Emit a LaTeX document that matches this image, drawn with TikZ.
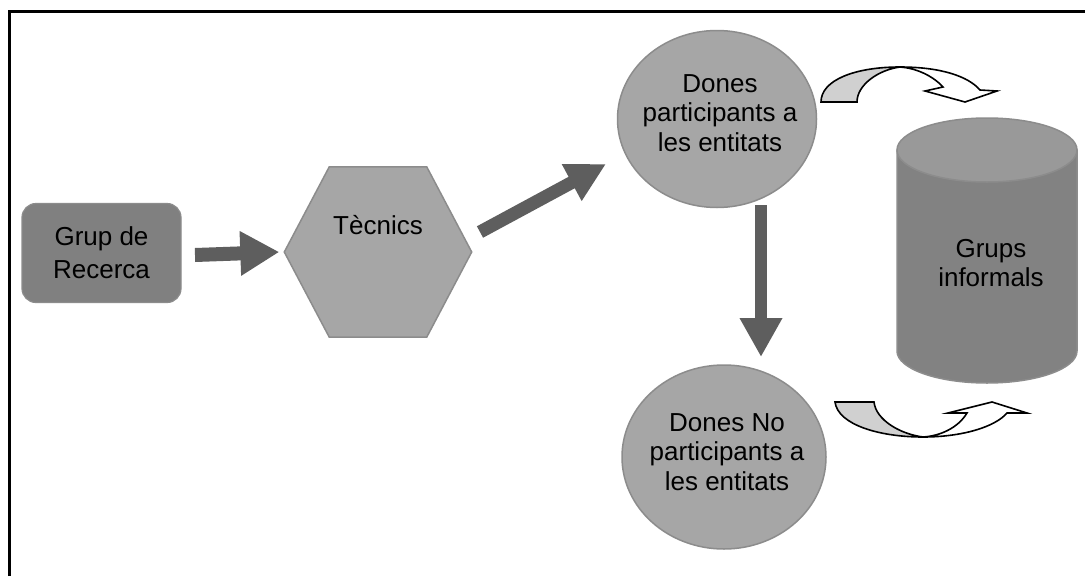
\documentclass[tikz,border=0pt]{standalone}
\usepackage{fontspec}
\setmainfont{Liberation Sans}
\usetikzlibrary{arrows.meta,shapes.geometric,calc}
\definecolor{boxgray}{HTML}{808080}
\definecolor{shapegray}{HTML}{A6A6A6}
\definecolor{edgegray}{HTML}{8C8C8C}
\definecolor{arrowgray}{HTML}{5E5E5E}
\definecolor{cyltop}{HTML}{999999}
\definecolor{cylbody}{HTML}{828282}
\definecolor{ribbon}{HTML}{D0D0D0}
\begin{document}
\begin{tikzpicture}[x=1pt,y=-1pt,
  lbl/.style={font=\fontsize{26}{29.5}\selectfont, align=center, inner sep=0pt, text=black},
  rbox/.style={lbl, font=\fontsize{26}{33}\selectfont, rounded corners=14pt, fill=boxgray, draw=edgegray, line width=1.2pt, minimum width=159pt, minimum height=99pt},
  oval/.style={ellipse, fill=shapegray, draw=edgegray, line width=1.5pt, inner sep=0pt},
  fat/.style={draw=arrowgray, line width=#1, -{Triangle[width=42pt,length=39pt]}},
  ribbonline/.style={draw=black, line width=1.6pt, line join=miter}
]
\fill[white] (0,0) rectangle (1085,576);
\useasboundingbox (0,0) rectangle (1085,576);
% frame
\draw[line width=2.8pt] (9.7,576) -- (9.7,11.3) -- (1085,11.3);

% Grup de Recerca
\node[rbox] (grp) at (101.5,253) {Grup de\\Recerca};

% hexagon
\node[minimum width=187pt, minimum height=170pt, inner sep=0pt] (hex) at (378,252) {};
\filldraw[fill=shapegray, draw=edgegray, line width=1.5pt]
  (hex.west) -- ($(hex.north west)!0.24!(hex.north east)$) -- ($(hex.north west)!0.76!(hex.north east)$)
  -- (hex.east) -- ($(hex.south west)!0.76!(hex.south east)$) -- ($(hex.south west)!0.24!(hex.south east)$) -- cycle;
\node[lbl] (tec) at (378,225) {Tècnics};

% ellipses
\node[oval, minimum width=199pt, minimum height=177pt] (c1) at (717,119) {};
\node[lbl] (c1t) at (720,113) {Dones\\participants a\\les entitats};
\node[oval, minimum width=204pt, minimum height=184pt] (c2) at (724,457) {};
\node[lbl] (c2t) at (727,452) {Dones No\\participants a\\les entitats};

% cylinder
\node[minimum width=180pt, minimum height=265pt, inner sep=0pt] (cyl) at (987,250) {};
\filldraw[fill=cylbody, draw=edgegray, line width=1.5pt]
  (897,150) -- (897,351) arc[start angle=180, end angle=0, x radius=90, y radius=32] -- (1077,150) -- cycle;
\filldraw[fill=cyltop, draw=edgegray, line width=1.5pt] (987,150) ellipse [x radius=90, y radius=32];
\node[lbl] (cylt) at (991,263) {Grups\\informals};

% fat arrows
\coordinate (a1s) at (195,255);
\coordinate (a2s) at (480,232);
\coordinate (a2e) at (606,164);
\coordinate (a3s) at (761,205);
\coordinate (a3e) at (761,357);
\draw[fat=14pt] (a1s) -- ([xshift=-5pt]hex.west);
\draw[draw=arrowgray, line width=13pt, -{Triangle[width=39pt,length=39pt]}] (a2s) -- (a2e);
\draw[draw=arrowgray, line width=12pt, -{Triangle[width=40pt,length=39pt]}] (a3s) -- (a3e);

% top curved arrow
\filldraw[ribbonline, fill=ribbon] (821,102) .. controls (821,80) and (855,67) .. (900,67)
  .. controls (878,70) and (857,85) .. (857,102) -- cycle;
\filldraw[ribbonline, fill=white] (900,67) .. controls (940,67) and (968,76) .. (980,90)
  -- (997,91) -- (965,102) -- (925,91) -- (943,87)
  .. controls (932,75) and (915,68) .. (900,67) -- cycle;

% bottom curved arrow
\filldraw[ribbonline, fill=ribbon] (835,402) .. controls (838,425) and (880,437) .. (923,437)
  .. controls (900,434) and (876,420) .. (874,402) -- cycle;
\filldraw[ribbonline, fill=white] (923,437) .. controls (962,437) and (995,427) .. (1007,413)
  -- (1027,413) -- (992,402) -- (948,413) -- (967,413)
  .. controls (958,428) and (940,436) .. (923,437) -- cycle;
\end{tikzpicture}
\end{document}
